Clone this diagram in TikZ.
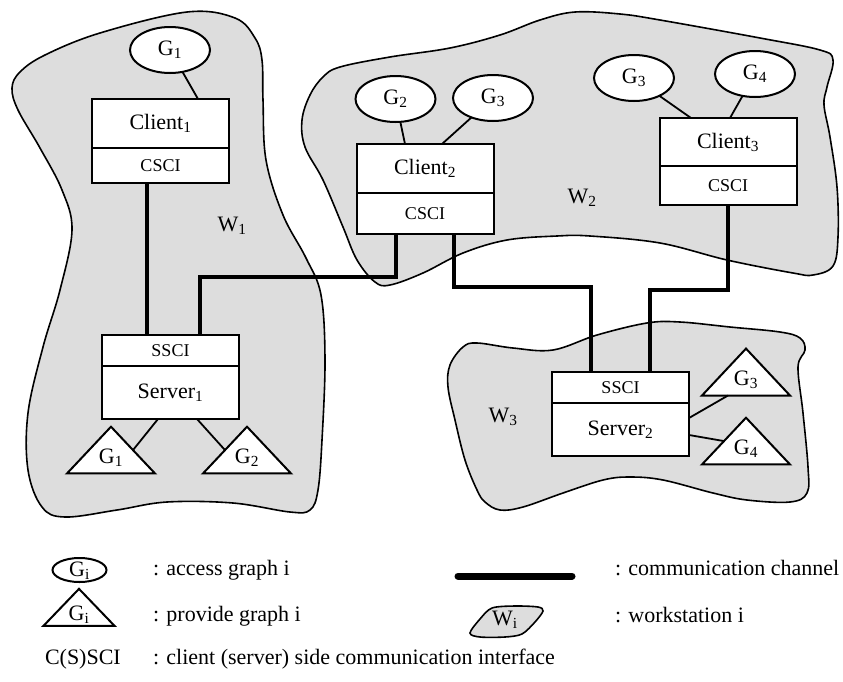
\documentclass[tikz,border=0pt]{standalone}
\usepackage{fontspec}
\setmainfont{Liberation Serif}
\usetikzlibrary{positioning,shapes.geometric}
\definecolor{cdddddd}{RGB}{221,221,221}

\begin{document}
\begin{tikzpicture}[y=1pt, x=1pt, yscale=-1, inner sep=0pt, outer sep=0pt,
  font=\fontsize{22}{26}\selectfont,
  station/.style={draw=black, fill=cdddddd, line width=1.6pt},
  namebox/.style={draw=black, fill=white, line width=2pt, minimum width=137pt},
  sci/.style={namebox, font=\fontsize{18}{21}\selectfont},
  access/.style={draw=black, fill=white, line width=2pt, ellipse,
    minimum width=80pt, minimum height=46pt},
  provide/.style={draw=black, fill=white, line width=2pt, isosceles triangle,
    shape border rotate=90, isosceles triangle stretches,
    minimum width=88pt, minimum height=46pt},
  link/.style={draw=black, line width=1.8pt},
  channel/.style={draw=black, line width=4.5pt, line join=miter}]
\useasboundingbox (0,0) rectangle (843,681);

% workstations
\path[station] plot[smooth cycle, tension=0.6] coordinates {
  (187,12) (235,18) (255,38) (262,60) (263,100) (266,160) (283,215)
  (306,258) (321,295) (325,360) (322,440) (318,490) (310,510) (290,512)
  (233,503) (167,502) (117,510) (65,517) (42,507) (28,470) (28,413)
  (43,347) (60,290) (72,230) (62,190) (40,148) (18,110) (12,88) (20,72)
  (45,55) (100,33)};
\path[station] plot[smooth cycle, tension=0.6] coordinates {
  (575,12) (620,14) (660,20) (760,38) (820,50) (833,60) (827,87) (824,105)
  (830,137) (837,187) (838,237) (833,266) (813,275) (793,273) (727,260)
  (660,243) (590,236) (557,236) (507,240) (463,253) (423,273) (390,285)
  (375,282) (357,260) (343,227) (323,180) (305,147) (302,120) (310,95)
  (323,77) (340,67) (390,57) (450,48) (500,35) (540,20)};
\path[station] plot[smooth cycle, tension=0.6] coordinates {
  (448,387) (450,365) (463,347) (477,343) (513,348) (553,350) (597,335)
  (647,323) (680,322) (730,327) (780,332) (800,338) (805,350) (798,367)
  (803,413) (808,467) (807,493) (790,502) (747,500) (713,493) (663,480)
  (630,477) (603,480) (563,493) (523,507) (500,510) (485,502) (477,490)
  (465,460) (455,420)};
\node[anchor=base] (w1) at (232,231) {W\textsubscript{1}};
\node[anchor=base] (w2) at (582,203) {W\textsubscript{2}};
\node[anchor=base] (w3) at (503,422) {W\textsubscript{3}};

% clients and servers
\node[namebox, minimum height=49pt] (c1) at (160.5,123.5) {Client\textsubscript{1}};
\node[sci, minimum height=35pt, below=0pt of c1] (c1i) {CSCI};
\node[namebox, minimum height=49pt] (c2) at (425,168.5) {Client\textsubscript{2}};
\node[sci, minimum height=41pt, below=0pt of c2] (c2i) {CSCI};
\node[namebox, minimum height=48pt] (c3) at (728,142) {Client\textsubscript{3}};
\node[sci, minimum height=39pt, below=0pt of c3] (c3i) {CSCI};
\node[sci, minimum height=31pt] (s1i) at (170.5,350.5) {SSCI};
\node[namebox, minimum height=53pt, below=0pt of s1i] (s1) {Server\textsubscript{1}};
\node[sci, minimum height=31pt] (s2i) at (620.5,387.5) {SSCI};
\node[namebox, minimum height=53pt, below=0pt of s2i] (s2) {Server\textsubscript{2}};

% communication channels
\draw[channel] ([xshift=-13.5pt]c1i.south) -- ([xshift=-23.5pt]s1i.north);
\draw[channel] ([xshift=-29pt]c2i.south) -- ++(0,43) -| ([xshift=29.5pt]s1i.north);
\draw[channel] ([xshift=29pt]c2i.south) -- ++(0,53) -| ([xshift=-29.5pt]s2i.north);
\draw[channel] (c3i.south) -- ++(0,85) -| ([xshift=29.5pt]s2i.north);

% access graphs
\node[access] (g1) at (170,50) {G\textsubscript{1}};
\node[access] (g2) at (395.5,99) {G\textsubscript{2}};
\node[access] (g3) at (493,98) {G\textsubscript{3}};
\node[access] (g3b) at (634,78) {G\textsubscript{3}};
\node[access] (g4) at (755,74) {G\textsubscript{4}};
\draw[link] (g1) -- ([xshift=37.5pt]c1.north);
\draw[link] (g2) -- ([xshift=-20pt]c2.north);
\draw[link] (g3) -- ([xshift=17pt]c2.north);
\draw[link] (g3b) -- ([xshift=-37pt]c3.north);
\draw[link] (g4) -- ([xshift=2pt]c3.north);

% provide graphs
\node[provide] (t1) at (111,458) {G\textsubscript{1}};
\node[provide] (t2) at (247,458) {G\textsubscript{2}};
\node[provide] (t3) at (746,380) {G\textsubscript{3}};
\node[provide] (t4) at (746,449) {G\textsubscript{4}};
\draw[link] ([xshift=-12.5pt]s1.south) -- (t1.right side);
\draw[link] ([xshift=26.5pt]s1.south) -- (t2.left side);
\draw[link] ([yshift=-11.5pt]s2.east) -- ([xshift=-18pt]t3.lower side);
\draw[link] ([yshift=5.5pt]s2.east) -- (t4.left side);

% legend
\node[access, minimum width=54pt, minimum height=24pt, text height=12pt,
  text depth=0pt] (lga) at (79.5,570) {G\textsubscript{i}};
\node[anchor=base west] (lgat) at (153,575) {: access graph i};
\node[provide, minimum width=71pt, minimum height=36pt, text height=12pt,
  text depth=0pt] (lgp) at (79,614) {G\textsubscript{i}};
\node[anchor=base west] (lgpt) at (153,621) {: provide graph i};
\node[anchor=base west] (lgs) at (45,664) {C(S)SCI};
\node[anchor=base west] (lgst) at (153,664) {: client (server) side communication interface};
\coordinate (lc1) at (458,576);
\coordinate (lc2) at (572,576);
\draw[channel, line width=7pt, line cap=round] (lc1) -- (lc2);
\node[anchor=base west] (lgct) at (615,575) {: communication channel};
\path[station] plot[smooth cycle, tension=0.5] coordinates {
  (470,633) (480,619) (492,608) (515,606) (538,607) (543,611) (535,622)
  (522,634) (505,637) (480,637)};
\node (lgw) at (505,620) {W\textsubscript{i}};
\node[anchor=base west] (lgwt) at (615,622) {: workstation i};
\end{tikzpicture}
\end{document}
